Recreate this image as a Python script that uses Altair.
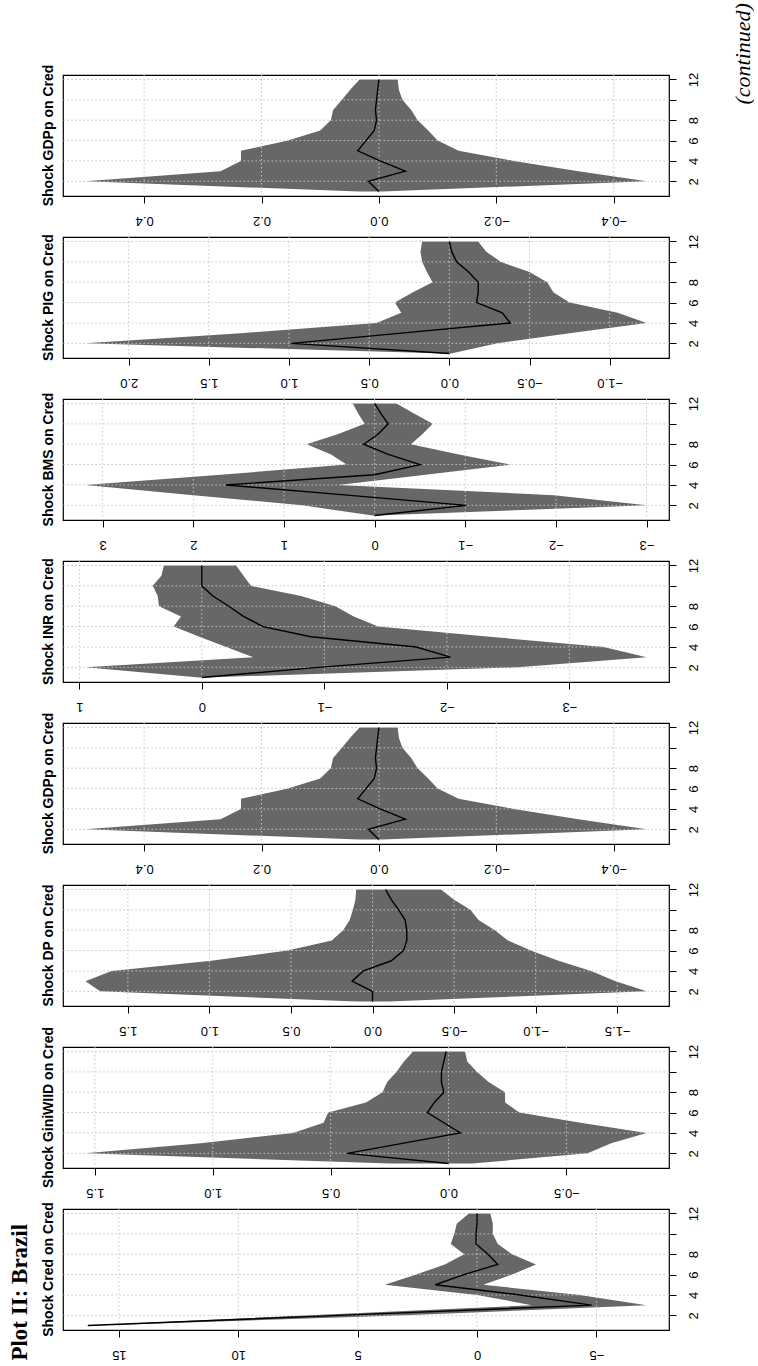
import altair as alt
import pandas as pd

# horizons
HORIZON = list(range(1, 13))
H_TICKS = [2, 4, 6, 8, 10, 12]

# ---- panel data (response of Cred) ----
GDPP_MID = [0.0, 0.018, -0.045, -0.002, 0.036, 0.022, 0.008, 0.004, 0.006, 0.004, 0.002, 0.0]
GDPP_UP = [0.034, 0.50, 0.27, 0.235, 0.235, 0.155, 0.10, 0.082, 0.078, 0.063, 0.049, 0.033]
GDPP_LO = [-0.005, -0.456, -0.34, -0.23, -0.136, -0.10, -0.084, -0.066, -0.055, -0.04, -0.034, -0.032]
GDPP_TICKS = [-0.4, -0.2, 0.0, 0.2, 0.4]

PIG_MID = [0.0, 0.985, 0.30, -0.38, -0.33, -0.17, -0.18, -0.18, -0.12, -0.045, -0.015, 0.0]
PIG_UP = [0.02, 2.27, 1.30, 0.455, 0.30, 0.34, 0.23, 0.105, 0.14, 0.17, 0.18, 0.17]
PIG_LO = [-0.01, -0.30, -0.75, -1.23, -1.05, -0.75, -0.65, -0.61, -0.50, -0.32, -0.23, -0.18]
PIG_TICKS = [-1.0, -0.5, 0.0, 0.5, 1.0, 1.5, 2.0]

BMS_MID = [0.0, -1.01, 0.30, 1.64, 0.0, -0.50, -0.15, 0.12, -0.04, -0.15, -0.07, 0.0]
BMS_UP = [0.02, 0.80, 2.00, 3.19, 1.70, 0.31, 0.48, 0.75, 0.40, 0.11, 0.18, 0.24]
BMS_LO = [-0.02, -3.00, -1.98, 0.40, -0.56, -1.50, -0.93, -0.40, -0.53, -0.64, -0.44, -0.24]
BMS_TICKS = [-3, -2, -1, 0, 1, 2, 3]

INR_MID = [0.0, -0.95, -2.03, -1.75, -0.89, -0.50, -0.34, -0.22, -0.09, 0.0, 0.0, 0.0]
INR_UP = [0.02, 0.95, -0.42, -0.20, 0.02, 0.23, 0.17, 0.35, 0.36, 0.40, 0.33, 0.31]
INR_LO = [-0.02, -2.58, -3.63, -3.28, -2.35, -1.44, -1.24, -1.09, -0.81, -0.40, -0.34, -0.28]
INR_TICKS = [-3, -2, -1, 0, 1]

DP_MID = [0.0, 0.0, 0.125, 0.056, -0.115, -0.19, -0.21, -0.21, -0.20, -0.16, -0.115, -0.08]
DP_UP = [0.10, 1.67, 1.76, 1.60, 0.99, 0.52, 0.25, 0.18, 0.14, 0.12, 0.105, 0.10]
DP_LO = [-0.10, -1.68, -1.49, -1.34, -1.14, -0.97, -0.83, -0.75, -0.65, -0.60, -0.50, -0.42]
DP_TICKS = [-1.5, -1.0, -0.5, 0.0, 0.5, 1.0, 1.5]

GINI_MID = [0.0, 0.43, 0.19, -0.05, 0.02, 0.09, 0.06, 0.02, 0.03, 0.03, 0.02, 0.01]
GINI_UP = [0.25, 1.54, 1.05, 0.66, 0.53, 0.51, 0.35, 0.28, 0.26, 0.22, 0.19, 0.15]
GINI_LO = [-0.10, -0.59, -0.69, -0.84, -0.56, -0.30, -0.24, -0.24, -0.17, -0.12, -0.08, -0.07]
GINI_TICKS = [-0.5, 0.0, 0.5, 1.0, 1.5]

CRED_MID = [16.3, 5.8, -4.8, -1.8, 1.75, 0.55, -0.87, -0.46, 0.04, 0.04, 0.0, 0.0]
CRED_UP = [16.4, 7.0, -2.3, 0.0, 3.86, 2.55, 1.35, 0.54, 1.1, 0.95, 0.85, 0.34]
CRED_LO = [16.0, 3.0, -7.1, -4.3, -0.26, -1.47, -2.47, -1.47, -0.87, -0.66, -0.66, -0.56]
CRED_TICKS = [-5, 0, 5, 10, 15]

PANELS = [
    ("Shock GDPp on Cred", GDPP_MID, GDPP_UP, GDPP_LO, GDPP_TICKS, ".1f"),
    ("Shock PIG on Cred", PIG_MID, PIG_UP, PIG_LO, PIG_TICKS, ".1f"),
    ("Shock BMS on Cred", BMS_MID, BMS_UP, BMS_LO, BMS_TICKS, "d"),
    ("Shock INR on Cred", INR_MID, INR_UP, INR_LO, INR_TICKS, "d"),
    ("Shock GDPp on Cred", GDPP_MID, GDPP_UP, GDPP_LO, GDPP_TICKS, ".1f"),
    ("Shock DP on Cred", DP_MID, DP_UP, DP_LO, DP_TICKS, ".1f"),
    ("Shock GiniWIID on Cred", GINI_MID, GINI_UP, GINI_LO, GINI_TICKS, ".1f"),
    ("Shock Cred on Cred", CRED_MID, CRED_UP, CRED_LO, CRED_TICKS, "d"),
]

BAND = "#676767"
GRID = "#c4c4c4"
W, HGT = 606, 121


def panel(title, mid, up, lo, ticks, fmt):
    df = pd.DataFrame({"h": HORIZON, "mid": mid, "up": up, "lo": lo})
    allv = list(mid) + list(up) + list(lo)
    vmin, vmax = min(allv), max(allv)
    ext = 0.04 * (vmax - vmin)
    xs = alt.Scale(domain=[vmin - ext, vmax + ext], reverse=True, nice=False, zero=False)
    ys = alt.Scale(domain=[1 - 0.44, 12 + 0.44], nice=False, zero=False)
    xa = alt.Axis(values=ticks, format=fmt, orient="bottom", labelAngle=180,
                  labelBaseline="bottom", labelAlign="center", tickSize=7, labelPadding=10,
                  grid=False, domain=False, title=None, labelFlush=False, labelOverlap=False)
    ya = alt.Axis(values=H_TICKS, orient="right", labelAngle=270, labelBaseline="top",
                  labelAlign="center", labelExpr="datum.value == 10 ? '' : datum.label",
                  tickSize=7, labelPadding=11, grid=False, domain=False, title=None,
                  labelFlush=False, labelOverlap=False)

    band = alt.Chart(df).mark_area(orient="horizontal", color=BAND, opacity=1).encode(
        x=alt.X("lo:Q", scale=xs, axis=xa),
        x2="up:Q",
        y=alt.Y("h:Q", scale=ys, axis=ya),
    )
    vgrid = alt.Chart(pd.DataFrame({"v": ticks})).mark_rule(
        color=GRID, strokeDash=[1.5, 2.5], strokeWidth=1).encode(
        x=alt.X("v:Q", scale=xs, axis=xa))
    hgrid = alt.Chart(pd.DataFrame({"h": H_TICKS})).mark_rule(
        color=GRID, strokeDash=[1.5, 2.5], strokeWidth=1).encode(
        y=alt.Y("h:Q", scale=ys, axis=ya))
    line = alt.Chart(df).mark_line(color="black", strokeWidth=1.4).encode(
        x=alt.X("mid:Q", scale=xs, axis=xa),
        y=alt.Y("h:Q", scale=ys, axis=ya),
        order="h:Q",
    )
    return alt.layer(band, vgrid, hgrid, line).properties(
        width=W, height=HGT,
        title=alt.TitleParams(title, orient="left", anchor="middle", font="Liberation Sans",
                              fontWeight="bold", fontSize=14, offset=7, color="black"),
    )


panels = [panel(*p) for p in PANELS]

inner = alt.vconcat(*panels, spacing=41.0, bounds="flush").properties(
    title=alt.TitleParams("Plot II: Brazil", orient="left", anchor="start",
                          font="Liberation Serif", fontWeight="bold", fontSize=23,
                          offset=9, color="black")
)

chart = alt.hconcat(inner).properties(
    title=alt.TitleParams("(continued)", orient="right", anchor="start", angle=270,
                          align="right", baseline="top", font="Liberation Serif",
                          fontStyle="italic", fontWeight="normal", fontSize=22,
                          offset=10, dx=61, color="black"),
    padding={"left": 8, "top": 3, "right": 0, "bottom": 8},
).configure_axis(
    labelFont="Liberation Sans", labelFontSize=13, labelColor="black",
    tickColor="black", tickWidth=1,
).configure_view(stroke="black", strokeWidth=1.2)

chart.save("out.html", embed_options={"renderer": "svg", "actions": False})
